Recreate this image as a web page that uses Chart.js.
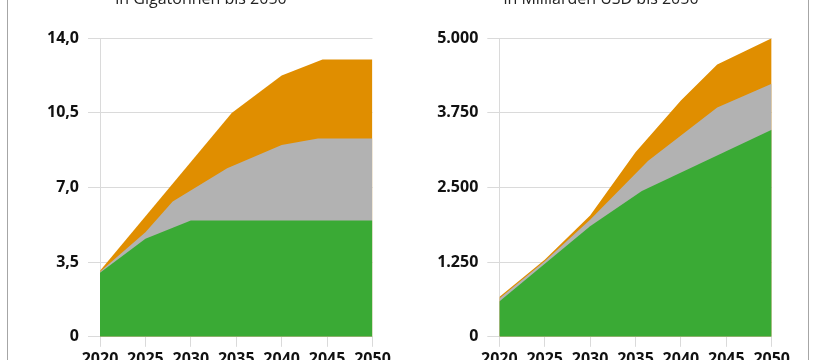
<!DOCTYPE html>
<html><head><meta charset="utf-8">
<script src="https://cdn.jsdelivr.net/npm/chart.js@4/dist/chart.umd.min.js"></script>
<style>
html,body{margin:0;padding:0;width:820px;height:360px;overflow:hidden;background:#fff;}
#frame{position:absolute;left:7px;top:-60px;width:802px;height:480px;border:1px solid #a6a6a6;box-sizing:border-box;}
.box{position:absolute;top:-40px;height:425px;}
#b1{left:0;width:410px;}
#b2{left:410px;width:400px;}
</style></head>
<body>
<div id="frame"></div>
<div class="box" id="b1"><canvas id="c1" width="410" height="425"></canvas></div>
<div class="box" id="b2"><canvas id="c2" width="400" height="425"></canvas></div>
<script>
// ---- data ----
const xTicks = [2020, 2025, 2030, 2035, 2040, 2045, 2050];

const leftTitle = 'in Gigatonnen bis 2050';
const leftYTicks = [0, 3.5, 7, 10.5, 14];
const leftYLabels = ['0', '3,5', '7,0', '10,5', '14,0'];
const leftGreenYears = [2020, 2025, 2030, 2050];
const leftGreenTop = [3.0, 4.6, 5.45, 5.45];
const leftGreyYears = [2020, 2025, 2028, 2034, 2040, 2044, 2050];
const leftGreyTop = [3.05, 4.9, 6.35, 7.9, 9.0, 9.3, 9.3];
const leftOrangeYears = [2020, 2034.5, 2040, 2044.5, 2050];
const leftOrangeTop = [3.1, 10.5, 12.25, 13.0, 13.0];

const rightTitle = 'in Milliarden USD bis 2050';
const rightYTicks = [0, 1250, 2500, 3750, 5000];
const rightYLabels = ['0', '1.250', '2.500', '3.750', '5.000'];
const rightGreenYears = [2020, 2030, 2035.7, 2050];
const rightGreenTop = [590, 1853, 2443, 3470];
const rightGreyYears = [2020, 2025, 2030, 2036.4, 2044, 2050];
const rightGreyTop = [640, 1265, 1960, 2950, 3840, 4240];
const rightOrangeYears = [2020, 2025, 2030, 2035, 2040, 2044, 2050];
const rightOrangeTop = [665, 1290, 2030, 3090, 3960, 4560, 5000];

const GREEN = '#3aaa35', GREY = '#b2b2b2', ORANGE = '#e08e00';
const GRID = '#dadada';
const FONT = "'Open Sans', sans-serif";

function pts(xs, ys){ return xs.map((x,i)=>({x:x, y:ys[i]})); }
function ds(xs, ys, col){
  return {data: pts(xs, ys), backgroundColor: col, borderColor: 'rgba(0,0,0,0)', borderWidth: 0,
          fill: 'origin', pointRadius: 0, pointHoverRadius: 0, tension: 0};
}

function makeChart(id, title, yTicks, yLabels, series, padL, padR, yWidth){
  new Chart(document.getElementById(id), {
    type: 'line',
    data: { datasets: series },
    options: {
      responsive: false, animation: false, events: [],
      layout: { padding: { left: padL, right: padR, top: 0, bottom: 13 } },
      plugins: {
        legend: { display: false }, tooltip: { enabled: false },
        title: { display: true, text: title, color: '#222', font: { family: FONT, size: 16, weight: 'normal' },
                 padding: { top: 30, bottom: 29.1 } }
      },
      scales: {
        x: {
          type: 'linear', min: 2020, max: 2050,
          afterBuildTicks: s => { s.ticks = xTicks.map(v => ({value: v})); },
          ticks: { callback: v => String(v), color: '#111', font: { family: FONT, size: 16, weight: 'bold' }, padding: 3, maxRotation: 0, autoSkip: false },
          grid: { drawOnChartArea: false, color: GRID, tickLength: 10 },
          border: { color: GRID }
        },
        y: {
          min: yTicks[0], max: yTicks[yTicks.length-1],
          afterBuildTicks: s => { s.ticks = yTicks.map(v => ({value: v})); },
          afterFit: s => { s.width = yWidth; },
          ticks: { callback: (v, i) => yLabels[yTicks.indexOf(v)], color: '#111', font: { family: FONT, size: 16, weight: 'bold' }, padding: 9 },
          grid: { color: GRID, tickLength: 12 },
          border: { color: GRID }
        }
      }
    }
  });
}

makeChart('c1', leftTitle, leftYTicks, leftYLabels, [
  ds(leftGreenYears, leftGreenTop, GREEN),
  ds(leftGreyYears, leftGreyTop, GREY),
  ds(leftOrangeYears, leftOrangeTop, ORANGE)
], 29.5, 37.5, 70.5);

makeChart('c2', rightTitle, rightYTicks, rightYLabels, [
  ds(rightGreenYears, rightGreenTop, GREEN),
  ds(rightGreyYears, rightGreyTop, GREY),
  ds(rightOrangeYears, rightOrangeTop, ORANGE)
], 20.3, 38.3, 69);
</script>
</body></html>
